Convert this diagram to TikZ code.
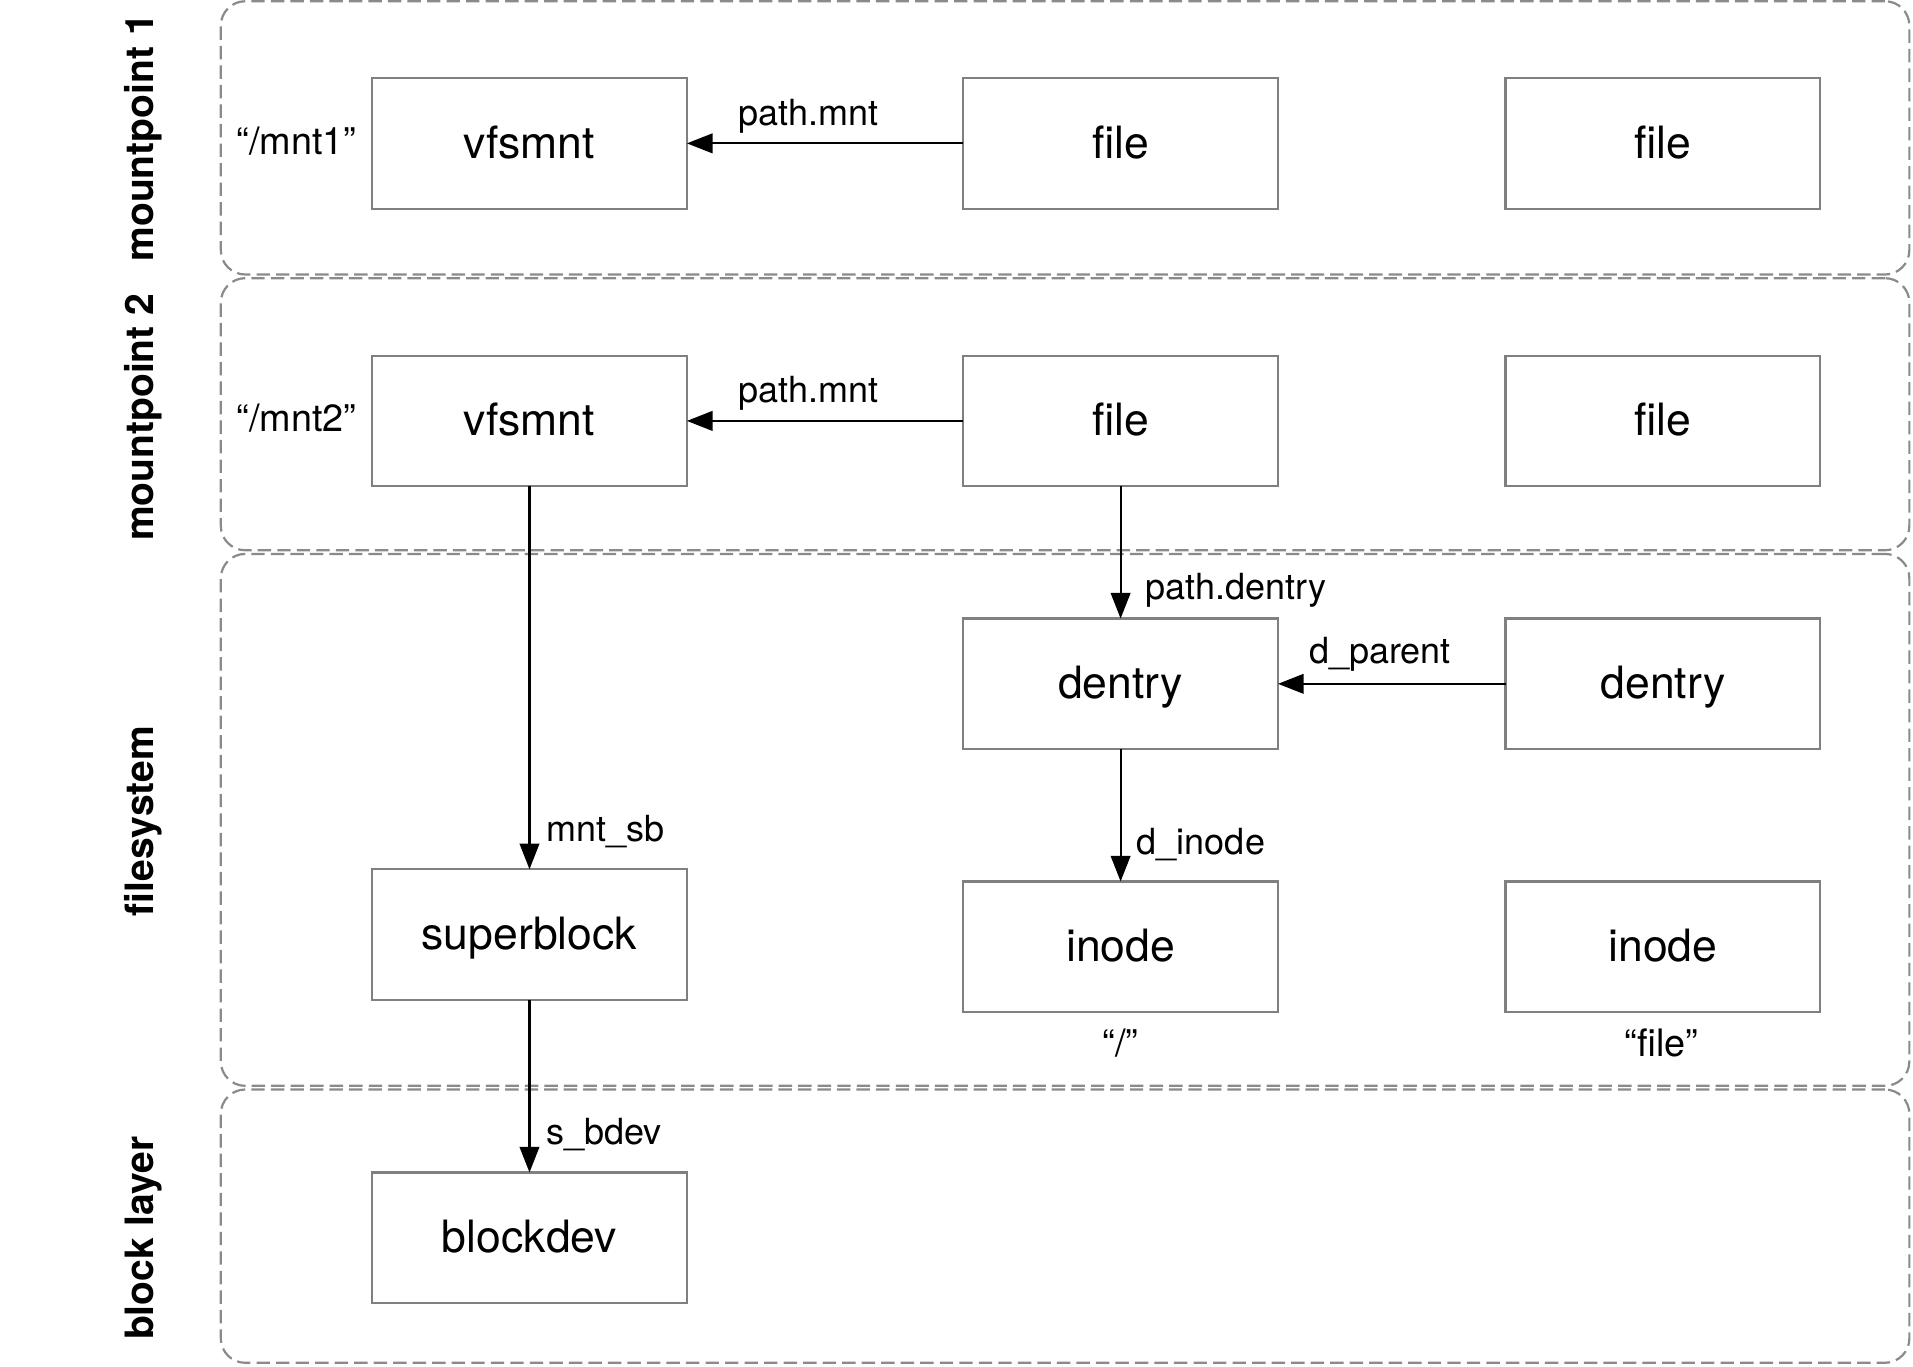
\documentclass[tikz,border=0pt]{standalone}
\usepackage{fontspec}
\setmainfont{TeX Gyre Heros}
\usetikzlibrary{arrows.meta}
\definecolor{boxgray}{HTML}{808080}
\definecolor{grpgray}{HTML}{8A8A8A}
\tikzset{
  obj/.style={draw=boxgray, line width=1.8pt, rectangle, minimum width=258pt, minimum height=107pt, inner sep=0pt, outer sep=0pt, text height=24pt, text depth=0pt, font=\fontsize{36.5}{40}\selectfont},
  grp/.style={draw=grpgray, line width=1.8pt, dash pattern=on 11pt off 5pt, rounded corners=20pt, rectangle, inner sep=0pt, outer sep=0pt},
  lay/.style={rotate=90, anchor=base, inner sep=0pt, font=\fontsize{32}{36}\selectfont\bfseries},
  lbl/.style={font=\fontsize{29.5}{33}\selectfont, inner sep=0pt},
  qlbl/.style={font=\fontsize{31}{34}\selectfont, inner sep=0pt, anchor=base},
  arr/.style={draw=black, line width=1.8pt, -{Triangle[length=21pt,width=16pt]}}
}
\begin{document}
\begin{tikzpicture}[x=1pt,y=-1pt]
\useasboundingbox (0,0) rectangle (1568,1120);
% groups
\node[grp, minimum width=1384pt, minimum height=224pt] (g1) at (873,113) {};
\node[grp, minimum width=1384pt, minimum height=223pt] (g2) at (873,339.5) {};
\node[grp, minimum width=1384pt, minimum height=436pt] (g3) at (873,672) {};
\node[grp, minimum width=1384pt, minimum height=224pt] (g4) at (873,1005) {};
% layer labels
\node[lay] (t1) at (125.5,113) {mountpoint 1};
\node[lay] (t2) at (125.5,342) {mountpoint 2};
\node[lay] (t3) at (125.5,673) {filesystem};
\node[lay] (t4) at (125.5,1015) {block layer};
% boxes
\node[obj] (v1) at (434,117.5) {vfsmnt};
\node[obj] (f1) at (918.5,117.5) {file};
\node[obj] (f1b) at (1363,117.5) {file};
\node[obj] (v2) at (434,345) {vfsmnt};
\node[obj] (f2) at (918.5,345) {file};
\node[obj] (f2b) at (1363,345) {file};
\node[obj] (d1) at (918.5,560.5) {dentry};
\node[obj] (d2) at (1363,560.5) {dentry};
\node[obj] (i1) at (918.5,776) {inode};
\node[obj] (i2) at (1363,776) {inode};
\node[obj] (sb) at (434,766) {superblock};
\node[obj] (bd) at (434,1014.5) {blockdev};
% quoted labels
\node[qlbl] (q1) at (243,127) {“/mnt1”};
\node[qlbl] (q2) at (243,354) {“/mnt2”};
\node[qlbl] (q3) at (918.5,866) {“/”};
\node[qlbl] (q4) at (1362,866) {“file”};
% connectors
\draw[arr] (f1.west) -- (v1.east) node[lbl, anchor=base] (l1) at (663,103) {path.mnt};
\draw[arr] (f2.west) -- (v2.east) node[lbl, anchor=base] (l2) at (663,330) {path.mnt};
\draw[arr] (f2.south) -- (d1.north) node[lbl, anchor=base west] (l3) at (938,491) {path.dentry};
\draw[arr] (d2.west) -- (d1.east) node[lbl, anchor=base] (l4) at (1131,544) {d\_parent};
\draw[arr] (d1.south) -- (i1.north) node[lbl, anchor=base west] (l5) at (931,700) {d\_inode};
\draw[arr] (v2.south) -- (sb.north) node[lbl, anchor=base west] (l6) at (447,690) {mnt\_sb};
\draw[arr] (sb.south) -- (bd.north) node[lbl, anchor=base west] (l7) at (447,938) {s\_bdev};
\end{tikzpicture}
\end{document}
